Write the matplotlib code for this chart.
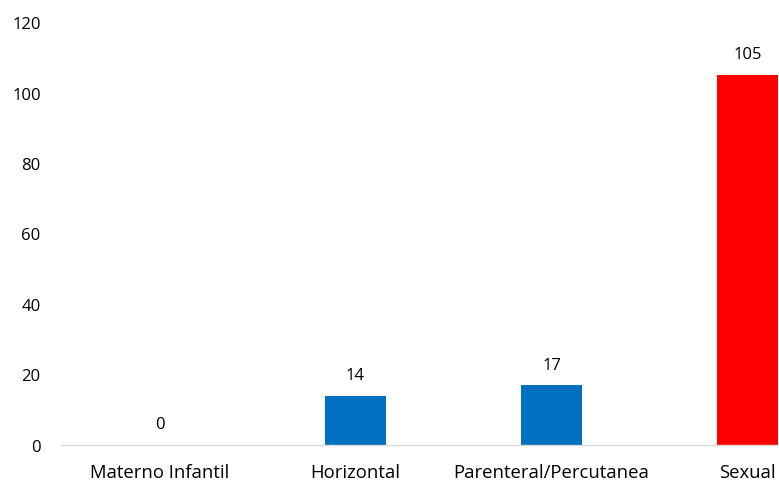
import matplotlib
matplotlib.use("Agg")
import matplotlib.pyplot as plt

categories = ["Materno Infantil", "Horizontal", "Parenteral/Percutanea", "Sexual"]
values = [0, 14, 17, 105]
colors = ["#0070C0", "#0070C0", "#0070C0", "#FF0000"]
yticks = [0, 20, 40, 60, 80, 100, 120]

plt.rcParams['font.family'] = ['Open Sans', 'DejaVu Sans']

W, H = 779, 481
fig = plt.figure(figsize=(W/100, H/100), dpi=100)
left = 61.5 / W
width = 784 / W
y0 = 446
y120 = 23
bottom = (H - y0) / H
height = (y0 - y120) / H
ax = fig.add_axes([left, bottom, width, height])

x = list(range(len(categories)))
ax.bar(x, values, width=0.311, color=colors)
ax.set_xlim(-0.5, len(categories) - 0.5)
ax.set_ylim(0, 120)
ax.set_yticks(yticks)
ax.set_xticks(x)
ax.set_xticklabels(categories)
ax.tick_params(axis='both', length=0, colors='#000000')
ax.tick_params(axis='y', pad=15, labelsize=12)
ax.tick_params(axis='x', pad=13, labelsize=13.3)
for s in ['top', 'right', 'left']:
    ax.spines[s].set_visible(False)
ax.spines['bottom'].set_color('#d9d9d9')
ax.spines['bottom'].set_linewidth(1)

for xi, v in zip(x, values):
    ax.annotate(str(v), (xi, v), xytext=(0, 14.8), textcoords='offset points',
                ha='center', va='center', fontsize=12)

fig.savefig("out.png", dpi=100)
